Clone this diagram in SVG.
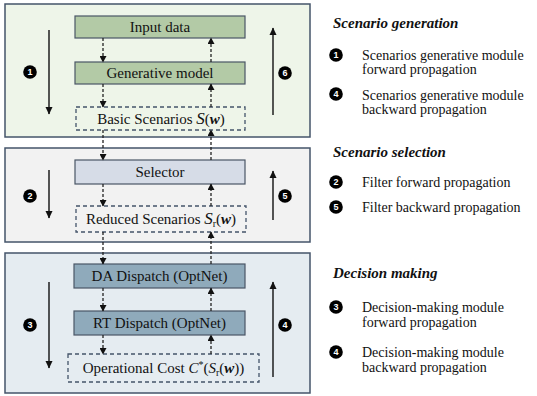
<svg xmlns="http://www.w3.org/2000/svg" width="537" height="396" viewBox="0 0 537 396">
<style>
.panel{stroke:#44546a;stroke-width:1.5}
.box{stroke:#4a5666;stroke-width:1.2}
.dbox{fill:none;stroke:#44546a;stroke-width:1.3;stroke-dasharray:4 3}
text{font-family:'Liberation Serif','Times New Roman','DejaVu Serif',serif}
.t{font-size:15px;fill:#111}
.lg{font-size:14px;fill:#111}
.hd{font-size:15px;font-weight:bold;font-style:italic;fill:#111}
.conn{stroke:#222;stroke-width:1.3;stroke-dasharray:3 2;fill:none}
.big{stroke:#111;stroke-width:1.4;fill:none}
.cn{fill:#000}
text.cnt{font-family:'Liberation Sans',Arial,sans-serif;font-size:9px;font-weight:bold;fill:#fff;text-anchor:middle}
.i{font-style:italic}
.bi{font-style:italic;font-weight:bold}
</style>
<defs>
<marker id="ah" markerUnits="userSpaceOnUse" markerWidth="7" markerHeight="7" refX="6" refY="3.5" orient="auto">
<path d="M0,0 L6.5,3.5 L0,7 z" fill="#111"/>
</marker>
<marker id="bh" markerUnits="userSpaceOnUse" markerWidth="8" markerHeight="8" refX="7" refY="4" orient="auto">
<path d="M0,0.5 L7.5,4 L0,7.5 z" fill="#111"/>
</marker>
</defs>

<g id="panel-generation">
<rect class="panel" x="5" y="4" width="305" height="133" fill="#eef5e9"/>
</g>
<g id="panel-selection">
<rect class="panel" x="5" y="148" width="305" height="94" fill="#f2f2f2"/>
</g>
<g id="panel-decision">
<rect class="panel" x="5" y="253" width="305" height="140" fill="#e5ecf1"/>
</g>

<g id="input-data">
<rect class="box" x="75" y="16" width="170" height="22" fill="#b3caa6"/>
<text class="t" x="160" y="32" text-anchor="middle">Input data</text>
</g>
<g id="generative-model">
<rect class="box" x="75" y="62" width="170" height="22" fill="#b3caa6"/>
<text class="t" x="160" y="78" text-anchor="middle">Generative model</text>
</g>
<g id="basic-scenarios">
<rect class="dbox" x="76" y="107" width="169" height="23"/>
<text class="t" x="161" y="123.5" text-anchor="middle">Basic Scenarios <tspan class="i" font-size="17">S</tspan>(<tspan class="bi">w</tspan>)</text>
</g>
<g id="selector">
<rect class="box" x="75" y="160" width="170" height="24" fill="#d6dce7"/>
<text class="t" x="160" y="177" text-anchor="middle">Selector</text>
</g>
<g id="reduced-scenarios">
<rect class="dbox" x="76" y="206" width="170" height="26"/>
<text class="t" x="161" y="224" text-anchor="middle">Reduced Scenarios <tspan class="i" font-size="17">S</tspan><tspan font-size="10" dy="3">r</tspan><tspan dy="-3">(</tspan><tspan class="bi">w</tspan>)</text>
</g>
<g id="da-dispatch">
<rect class="box" x="74" y="264" width="171" height="24" fill="#8faabb"/>
<text class="t" x="159.5" y="281" text-anchor="middle">DA Dispatch (OptNet)</text>
</g>
<g id="rt-dispatch">
<rect class="box" x="74" y="311" width="171" height="24" fill="#8faabb"/>
<text class="t" x="159.5" y="328" text-anchor="middle">RT Dispatch (OptNet)</text>
</g>
<g id="operational-cost">
<rect class="dbox" x="68" y="354" width="191" height="28"/>
<text class="t" x="163.5" y="373" text-anchor="middle">Operational Cost <tspan class="i">C</tspan><tspan font-size="10" dy="-5">*</tspan><tspan dy="5">(</tspan><tspan class="i">S</tspan><tspan font-size="10" dy="3">r</tspan><tspan dy="-3">(</tspan><tspan class="bi">w</tspan>))</text>
</g>

<g id="connectors">
<line class="conn" x1="103" y1="38" x2="103" y2="62" marker-end="url(#ah)"/>
<line class="conn" x1="211" y1="62" x2="211" y2="38" marker-end="url(#ah)"/>
<line class="conn" x1="103" y1="84" x2="103" y2="107" marker-end="url(#ah)"/>
<line class="conn" x1="211" y1="107" x2="211" y2="84" marker-end="url(#ah)"/>
<line class="conn" x1="103" y1="130" x2="103" y2="160" marker-end="url(#ah)"/>
<line class="conn" x1="211" y1="160" x2="211" y2="130" marker-end="url(#ah)"/>
<line class="conn" x1="103" y1="184" x2="103" y2="206" marker-end="url(#ah)"/>
<line class="conn" x1="211" y1="206" x2="211" y2="184" marker-end="url(#ah)"/>
<line class="conn" x1="103" y1="232" x2="103" y2="264" marker-end="url(#ah)"/>
<line class="conn" x1="211" y1="264" x2="211" y2="232" marker-end="url(#ah)"/>
<line class="conn" x1="103" y1="288" x2="103" y2="311" marker-end="url(#ah)"/>
<line class="conn" x1="211" y1="311" x2="211" y2="288" marker-end="url(#ah)"/>
<line class="conn" x1="103" y1="335" x2="103" y2="354" marker-end="url(#ah)"/>
<line class="conn" x1="211" y1="354" x2="211" y2="335" marker-end="url(#ah)"/>

<line class="big" x1="49" y1="30" x2="49" y2="114" marker-end="url(#bh)"/>
<line class="big" x1="49" y1="170" x2="49" y2="218" marker-end="url(#bh)"/>
<line class="big" x1="49" y1="282" x2="49" y2="368" marker-end="url(#bh)"/>
<line class="big" x1="273" y1="115" x2="273" y2="28" marker-end="url(#bh)"/>
<line class="big" x1="273" y1="220" x2="273" y2="171" marker-end="url(#bh)"/>
<line class="big" x1="273" y1="377" x2="273" y2="282" marker-end="url(#bh)"/>
</g>

<g id="step-markers">
<circle class="cn" cx="30" cy="72" r="6.8"/><text class="cnt" x="30" y="75.2">1</text>
<circle class="cn" cx="30" cy="196" r="6.8"/><text class="cnt" x="30" y="199.2">2</text>
<circle class="cn" cx="30" cy="325" r="6.8"/><text class="cnt" x="30" y="328.2">3</text>
<circle class="cn" cx="285" cy="73" r="6.8"/><text class="cnt" x="285" y="76.2">6</text>
<circle class="cn" cx="285" cy="196" r="6.8"/><text class="cnt" x="285" y="199.2">5</text>
<circle class="cn" cx="285" cy="325" r="6.8"/><text class="cnt" x="285" y="328.2">4</text>
</g>

<g id="legend">
<text class="hd" x="333" y="28">Scenario generation</text>
<circle class="cn" cx="336" cy="55" r="6.8"/><text class="cnt" x="336" y="58.2">1</text>
<text class="lg" x="362" y="60">Scenarios generative module</text>
<text class="lg" x="362" y="74">forward propagation</text>
<circle class="cn" cx="336" cy="94" r="6.8"/><text class="cnt" x="336" y="97.2">4</text>
<text class="lg" x="362" y="100">Scenarios generative module</text>
<text class="lg" x="362" y="114">backward propagation</text>

<text class="hd" x="333" y="157">Scenario selection</text>
<circle class="cn" cx="336" cy="182" r="6.8"/><text class="cnt" x="336" y="185.2">2</text>
<text class="lg" x="362" y="187">Filter forward propagation</text>
<circle class="cn" cx="336" cy="207" r="6.8"/><text class="cnt" x="336" y="210.2">5</text>
<text class="lg" x="362" y="212">Filter backward propagation</text>

<text class="hd" x="333" y="278">Decision making</text>
<circle class="cn" cx="336" cy="307" r="6.8"/><text class="cnt" x="336" y="310.2">3</text>
<text class="lg" x="362" y="312">Decision-making module</text>
<text class="lg" x="362" y="327">forward propagation</text>
<circle class="cn" cx="336" cy="352" r="6.8"/><text class="cnt" x="336" y="355.2">4</text>
<text class="lg" x="362" y="357">Decision-making module</text>
<text class="lg" x="362" y="372">backward propagation</text>
</g>
</svg>
